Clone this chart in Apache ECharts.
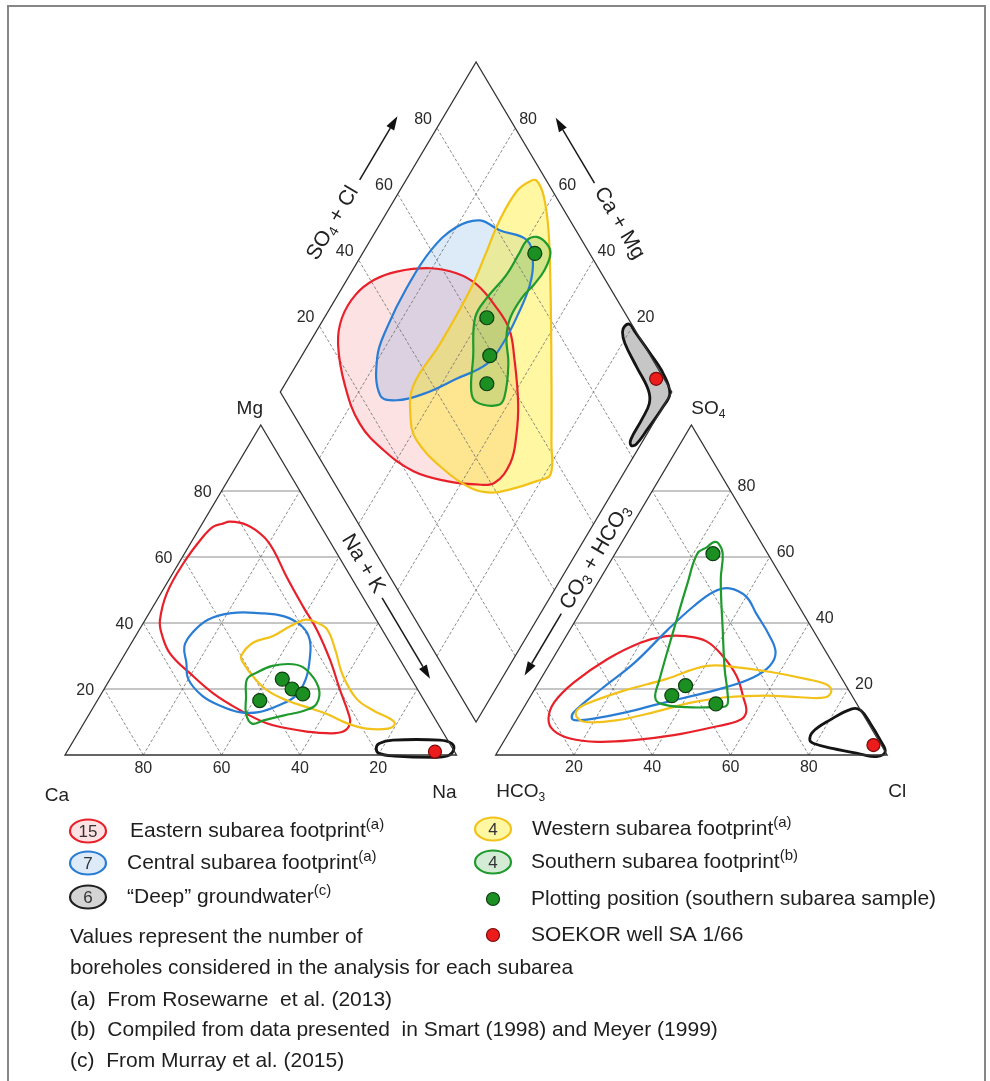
<!DOCTYPE html>
<html>
<head>
<meta charset="utf-8">
<title>Piper diagram – subarea footprints</title>
<script src="https://cdn.jsdelivr.net/npm/echarts@6.0.0/dist/echarts.min.js"></script>
<style>
  html, body { margin: 0; padding: 0; background: #ffffff; }
  #chart { width: 990px; height: 1081px; }
</style>
</head>
<body>
<div id="chart"></div>
<script>
// ---------------- values ----------------
const ticks = [20, 40, 60, 80];

// Cation triangle footprints, [Ca %, Mg %] (Na+K is the remainder)
const eastCation = [[25,70],[22.5,70.7],[18.7,69.7],[16.2,66.2],[15.7,62.1],[16.4,54],[16.7,44.9],[16.7,37.9],[17.9,28.8],[19.9,19.7],[21.3,12.6],[22.4,9.6],[25.4,7.1],[29.9,6.6],[34.7,7.1],[39.3,8.1],[43.7,9.6],[48.5,13.6],[52.8,18.7],[55.7,24.8],[57.8,30.8],[56.9,36.9],[55.3,40.9],[49.5,49],[40.7,58.1],[31.6,66.2],[27.5,69.2]];
const centralCation = [[53,33],[49,37],[43,41],[36,43],[29,43],[23,42],[20,39],[20,35],[23,29],[27,23],[32,18],[38,15],[44,13],[49,13],[53,15],[56,18],[57,23],[55,28]];
const westCation = [[40,30],[35,34],[29,36],[23,39],[18,41],[15.5,40],[14,38],[15,32],[17,24],[17,17],[14.5,13.5],[11.5,11],[11,9.5],[13.5,8],[19,8],[23,9.5],[27,12.5],[31,14.5],[35,16.5],[38.5,19.5],[40,23.5],[40.5,28]];
const southCation = [[42,23],[38.5,25],[33.5,27],[28,27.5],[25.5,26],[25,20.5],[28,15.5],[32,13.5],[38,12],[44,10.5],[47.5,9.5],[47.5,12.5],[45,17.5]];
const deepCation = [[18,3.5],[14,4.5],[2,4.5],[-0.5,3.5],[0,1.5],[2.5,-0.3],[6.5,-0.7],[16,-0.3],[19.5,0.5],[19.5,2]];

// Anion triangle footprints, [Cl %, SO4 %] (CO3+HCO3 is the remainder)
const eastAnion = [[8,11],[7,16],[9,22],[14,29],[20,34],[25.5,36],[30.5,36],[36.5,34.5],[43,30],[49.5,24],[54.5,17.5],[57.5,13],[57,10.5],[51.5,8.5],[42.5,6],[33,4.5],[24,4],[16.5,5],[11,7.5]];
const centralAnion = [[14,11],[13.5,13],[17,20],[21.5,28],[25,38],[28,45],[31,49.5],[34.5,50.5],[40,48],[45,43],[52,36],[56,31],[56.5,27],[54,23.5],[48.5,20.5],[41.5,18],[34,15.5],[27,13],[19.5,11],[15.5,10.5]];
const westAnion = [[14,13.5],[15.5,15.5],[23,19.5],[32,23],[40.5,27],[49,26.5],[58.5,25],[68,23],[73.5,21.5],[76,19.5],[75.5,17.5],[69,17.5],[60,18],[50,17.5],[42.5,16],[34,13],[25.5,10.5],[18,10],[15,11.5]];
const southAnion = [[22.5,63],[23.5,64.5],[25,64],[27.5,61],[31,53],[39,38],[45.5,26],[50,18.5],[51.5,15],[48.5,14.5],[41.5,14.5],[34.5,15.5],[32,17.5],[30.5,22.5],[26.5,38],[23,52],[21,61]];
const deepAnion = [[78,4.5],[77.5,7],[80,10.5],[84,14],[86.5,13.5],[91,9.5],[96,4.5],[99,1],[97.5,-0.5],[93,0.3],[85,2],[79.5,3.5]];

// Diamond footprints, [SO4+Cl %, Ca+Mg %]
const eastDiamond = [[48,88.5],[41,93],[34,95.5],[27,95.5],[22,92.5],[17.5,84.5],[15.5,75],[17.5,65],[22,54],[29,44],[36,36],[41,31.5],[48,30.5],[53.5,33],[59,37.5],[65,45.5],[68,51],[68,57.5],[66.5,66],[63,73],[57,80.5]];
const centralDiamond = [[25,74],[30,80.5],[37,82.5],[48,83.5],[60,83],[70,80],[77,75],[80.5,68.5],[86,60],[84.5,55.5],[80,52.5],[72,51],[64.5,50.5],[57,51.5],[47,57],[36.5,63],[28.5,69]];
const westDiamond = [[96,68],[97.5,66.5],[97,62.5],[93,56],[85,47],[72.5,34],[61.5,23],[56.5,18.5],[52,21],[44,26.5],[38.5,31],[34,37],[30,46.5],[27.5,58],[29.5,63],[35,67],[48,66.5],[64,67],[73.5,68.5],[82,70],[91,70]];
const southDiamond = [[90.5,54.5],[90,52],[86,51],[81,51.5],[76.5,52.5],[70,52.5],[66,50.5],[62.5,46],[56.5,42],[53.5,42.5],[48.5,48.5],[49,51.5],[54.5,56],[61,61.5],[67,61.5],[75.5,60],[82,60],[86,60],[89,58]];
const deepDiamond = [[98,22],[99.5,21],[99.7,18.5],[100.3,11.5],[100.6,5],[99.3,0.3],[95.6,0],[88,0.6],[83,1.2],[81.5,2.3],[82.5,3.3],[88,3.5],[92.5,4],[94.3,6.3],[94.8,12.8],[95.4,19.4],[96.5,21.7]];

// Southern subarea samples (% of meq)
const sampleCa  = [33, 42, 32, 30];
const sampleMg  = [23, 16.5, 20, 18.5];
const sampleCl  = [25, 48.5, 38, 36];
const sampleSO4 = [61, 15.5, 21, 18];

// SOEKOR well SA 1/66
const wellCation = [5, 1];   // [Ca, Mg]
const wellAnion  = [95, 3];  // [Cl, SO4]

// Legend content
const legendNames  = ['Eastern subarea footprint', 'Central subarea footprint', '\u201CDeep\u201D groundwater', 'Western subarea footprint', 'Southern subarea footprint'];
const legendCounts = ['15', '7', '6', '4', '4'];
const legendRefs   = ['(a)', '(a)', '(c)', '(a)', '(b)'];
const markerNames  = ['Plotting position (southern subarea sample)', 'SOEKOR well SA 1/66'];
const noteLines = [
  'Values represent the number of',
  'boreholes considered in the analysis for each subarea',
  '(a)  From Rosewarne  et al. (2013)',
  '(b)  Compiled from data presented  in Smart (1998) and Meyer (1999)',
  '(c)  From Murray et al. (2015)'
];

// ---------------- geometry (x: one side = 100, y: one triangle height = 100) ----------------
const SIDE = 100, GAP = 10;
const cationPt = ([ca, mg]) => [100 - ca - mg + mg / 2, mg];
const anionPt = ([cl, so4]) => [SIDE + GAP + cl + so4 / 2, so4];
const diamondPt = ([an, cat]) => {
  const u = an / 100, v = cat / 100;
  return [SIDE + GAP / 2 + (SIDE / 2) * (u - v), GAP + 100 * (u + v)];
};

const FONT = '"Liberation Sans", Arial, Helvetica, sans-serif';
const palette = {
  east:    { stroke: '#e8202a', fill: 'rgba(236,28,36,0.13)', width: 2.2 },
  central: { stroke: '#2a7dd4', fill: 'rgba(42,127,212,0.16)', width: 2.2 },
  west:    { stroke: '#f2c21b', fill: 'rgba(255,236,20,0.40)', width: 2.2 },
  south:   { stroke: '#1f9a2c', fill: 'rgba(40,160,50,0.20)', width: 2.2 },
  deep:    { stroke: '#141414', fill: '#c6c6c6', width: 2.8 }
};

// footprint shapes: [points, projection, palette key]
const shapes = [
  [eastDiamond, diamondPt, 'east'], [centralDiamond, diamondPt, 'central'],
  [westDiamond, diamondPt, 'west'], [southDiamond, diamondPt, 'south'], [deepDiamond, diamondPt, 'deep'],
  [eastCation, cationPt, 'east'], [centralCation, cationPt, 'central'], [westCation, cationPt, 'west'],
  [southCation, cationPt, 'south'], [deepCation, cationPt, 'deep'],
  [eastAnion, anionPt, 'east'], [centralAnion, anionPt, 'central'], [westAnion, anionPt, 'west'],
  [southAnion, anionPt, 'south'], [deepAnion, anionPt, 'deep']
];
const filledShapes = shapes.filter(s => s[1] === diamondPt);

// ---------------- grid lines and frames ----------------
const solidSegs = [], dashSegs = [];
ticks.forEach(t => {
  solidSegs.push([cationPt([100 - t, t]), cationPt([0, t])]);
  dashSegs.push([cationPt([100 - t, 0]), cationPt([0, 100 - t])]);
  dashSegs.push([cationPt([t, 0]), cationPt([t, 100 - t])]);
  solidSegs.push([anionPt([0, t]), anionPt([100 - t, t])]);
  dashSegs.push([anionPt([t, 0]), anionPt([t, 100 - t])]);
  dashSegs.push([anionPt([100 - t, 0]), anionPt([0, 100 - t])]);
  dashSegs.push([diamondPt([t, 0]), diamondPt([t, 100])]);
  dashSegs.push([diamondPt([0, t]), diamondPt([100, t])]);
});
const frames = [
  [cationPt([100, 0]), cationPt([0, 0]), cationPt([0, 100])],
  [anionPt([0, 0]), anionPt([100, 0]), anionPt([0, 100])],
  [diamondPt([0, 0]), diamondPt([100, 0]), diamondPt([100, 100]), diamondPt([0, 100])]
];

function segSeries(segs, style, z, closed) {
  return {
    type: 'custom', coordinateSystem: 'cartesian2d', silent: true, z: z,
    data: segs.map((s, i) => [i, 0]),
    renderItem: (params, api) => ({
      type: closed ? 'polygon' : 'polyline',
      shape: { points: segs[params.dataIndex].map(p => api.coord(p)) },
      style: Object.assign({ fill: null }, style)
    })
  };
}

function shapeSeries(list, mode, z) {
  return {
    type: 'custom', coordinateSystem: 'cartesian2d', silent: true, z: z,
    data: list.map((s, i) => [i, 0]),
    renderItem: (params, api) => {
      const [pts, proj, key] = list[params.dataIndex];
      const pal = palette[key];
      const style = mode === 'fill'
        ? { fill: pal.fill, stroke: null }
        : { fill: null, stroke: pal.stroke, lineWidth: pal.width, lineJoin: 'round' };
      return {
        type: 'polygon',
        shape: { points: pts.map(p => api.coord(proj(p))), smooth: 0.4 },
        style: style
      };
    }
  };
}

// ---------------- sample positions ----------------
const greenPts = [];
sampleCa.forEach((ca, i) => {
  const mg = sampleMg[i], cl = sampleCl[i], so4 = sampleSO4[i];
  greenPts.push(cationPt([ca, mg]));
  greenPts.push(anionPt([cl, so4]));
  greenPts.push(diamondPt([cl + so4, ca + mg]));
});
const redPts = [
  cationPt(wellCation),
  anionPt(wellAnion),
  diamondPt([wellAnion[0] + wellAnion[1], wellCation[0] + wellCation[1]])
];

// ---------------- labels, titles and arrows ----------------
function txt(x, y, text, opt) {
  opt = opt || {};
  const el = {
    type: 'text', x: x, y: y, rotation: opt.rotation || 0, silent: true,
    style: {
      text: text, fill: opt.color || '#2a2a2a', fontFamily: FONT, fontSize: opt.size || 16,
      align: opt.align || 'center', verticalAlign: 'middle'
    }
  };
  if (opt.rich) el.style.rich = opt.rich;
  return el;
}
function subRich(size) {
  return {
    n: { fontFamily: FONT, fontSize: size, lineHeight: size + 4, fill: '#222' },
    s: { fontFamily: FONT, fontSize: Math.round(size * 0.65), lineHeight: Math.round(size * 0.7), verticalAlign: 'bottom', fill: '#222' }
  };
}

function renderDecor(params, api) {
  const P = p => api.coord(p);
  const ch = [];
  ticks.forEach(t => {
    const s = String(t);
    let a = P(cationPt([100 - t, t])); ch.push(txt(a[0] - 10, a[1] + 2, s, { align: 'right' }));
    a = P(cationPt([t, 0]));           ch.push(txt(a[0], a[1] + 14, s));
    a = P(anionPt([100 - t, t]));      ch.push(txt(a[0] + 7, a[1] - 4, s, { align: 'left' }));
    a = P(anionPt([t, 0]));            ch.push(txt(a[0], a[1] + 13, s));
    a = P(diamondPt([t, 100]));        ch.push(txt(a[0] - 5, a[1] - 8.5, s, { align: 'right' }));
    a = P(diamondPt([100, t]));        ch.push(txt(a[0] + 4, a[1] - 8.5, s, { align: 'left' }));
  });

  // corner names
  let c = P(cationPt([0, 100]));  ch.push(txt(c[0] - 11, c[1] - 16, 'Mg', { size: 19, color: '#222' }));
  c = P(cationPt([100, 0]));      ch.push(txt(c[0] - 8, c[1] + 41, 'Ca', { size: 19, color: '#222' }));
  c = P(cationPt([0, 0]));        ch.push(txt(c[0] - 12, c[1] + 38, 'Na', { size: 19, color: '#222' }));
  c = P(anionPt([0, 100]));       ch.push(txt(c[0] + 17, c[1] - 16, '{n|SO}{s|4}', { rich: subRich(19) }));
  c = P(anionPt([0, 0]));         ch.push(txt(c[0] + 25, c[1] + 37, '{n|HCO}{s|3}', { rich: subRich(19) }));
  c = P(anionPt([100, 0]));       ch.push(txt(c[0] + 10, c[1] + 37, 'Cl', { size: 19, color: '#222' }));

  // edge titles with direction arrows
  function edge(p0, p1, leftSide) {
    const a = P(p0), b = P(p1);
    const dx = b[0] - a[0], dy = b[1] - a[1], L = Math.hypot(dx, dy);
    const e = [dx / L, dy / L];
    const n = leftSide ? [e[1], -e[0]] : [-e[1], e[0]];
    return { e: e, at: (s, d) => [a[0] + e[0] * s + n[0] * d, a[1] + e[1] * s + n[1] * d] };
  }
  function title(ed, s, d, text, reverse) {
    const r = reverse ? [-ed.e[0], -ed.e[1]] : ed.e;
    const p = ed.at(s, d);
    ch.push(txt(p[0], p[1], text, { rich: subRich(21), rotation: Math.atan2(-r[1], r[0]) }));
  }
  function arrow(ed, s0, s1, d) {
    const p0 = ed.at(s0, d), tip = ed.at(s1, d), base = ed.at(s1 - 14, d);
    const e = ed.e, w = 4.5;
    ch.push({ type: 'line', silent: true, shape: { x1: p0[0], y1: p0[1], x2: base[0], y2: base[1] },
      style: { stroke: '#1a1a1a', lineWidth: 1.5 } });
    ch.push({ type: 'polygon', silent: true,
      shape: { points: [tip, [base[0] - e[1] * w, base[1] + e[0] * w], [base[0] + e[1] * w, base[1] - e[0] * w]] },
      style: { fill: '#111' } });
  }
  const L = diamondPt([0, 100]), T = diamondPt([100, 100]), R = diamondPt([100, 0]), B = diamondPt([0, 0]);
  const e1 = edge(L, T, true);
  title(e1, 172, 41, '{n|SO}{s|4}{n| + Cl}', false);
  arrow(e1, 223, 297, 40);
  const e2 = edge(R, T, false);
  title(e2, 172, 41, '{n|Ca + Mg}', true);
  arrow(e2, 219, 295, 40);
  const e3 = edge(L, B, false);
  title(e3, 190, 16.5, '{n|Na + K}', false);
  arrow(e3, 229, 323, 17.5);
  const e4 = edge(R, B, true);
  title(e4, 181, 18.5, '{n|CO}{s|3}{n| + HCO}{s|3}', true);
  arrow(e4, 247, 319, 18);

  return { type: 'group', children: ch };
}

// ---------------- legend (page layout) ----------------
const legendText = 21;
const richLegend = {
  t: { fontFamily: FONT, fontSize: legendText, lineHeight: 27, fill: '#1e1e1e' },
  sup: { fontFamily: FONT, fontSize: 15, lineHeight: 15, verticalAlign: 'top', fill: '#1e1e1e' }
};
const legendKeys = ['east', 'central', 'deep', 'west', 'south'];
const legendPos = [[88, 831, 130], [88, 863, 127], [88, 897, 127], [493, 829, 532], [493, 862, 531]];
const graphics = [{
  type: 'rect', silent: true, shape: { x: 8, y: 6, width: 977, height: 1095 },
  style: { fill: null, stroke: '#878787', lineWidth: 2 }
}];
legendNames.forEach((name, i) => {
  const [cx, cy, tx] = legendPos[i];
  const pal = palette[legendKeys[i]];
  const fill = legendKeys[i] === 'deep' ? '#d4d4d4' : pal.fill;
  graphics.push({ type: 'ellipse', silent: true, shape: { cx: cx, cy: cy, rx: 18, ry: 11.5 },
    style: { fill: '#ffffff', stroke: null } });
  graphics.push({ type: 'ellipse', silent: true, shape: { cx: cx, cy: cy, rx: 18, ry: 11.5 },
    style: { fill: fill, stroke: legendKeys[i] === 'deep' ? '#222' : pal.stroke, lineWidth: 2.2 } });
  graphics.push({ type: 'text', silent: true, x: cx, y: cy + 1,
    style: { text: legendCounts[i], fontFamily: FONT, fontSize: 17, fill: '#333', align: 'center', verticalAlign: 'middle' } });
  graphics.push({ type: 'text', silent: true, x: tx, y: cy,
    style: { text: '{t|' + name + '}{sup|' + legendRefs[i] + '}', rich: richLegend, align: 'left', verticalAlign: 'middle' } });
});
[['#1b8f22', '#0d3d10', 899], ['#ec1c1c', '#7a0a0a', 935]].forEach((m, i) => {
  graphics.push({ type: 'circle', silent: true, shape: { cx: 493, cy: m[2], r: 6.5 },
    style: { fill: m[0], stroke: m[1], lineWidth: 1.2 } });
  graphics.push({ type: 'text', silent: true, x: 531, y: m[2],
    style: { text: markerNames[i], fontFamily: FONT, fontSize: legendText, fill: '#1e1e1e', align: 'left', verticalAlign: 'middle' } });
});
[937, 968, 1000, 1030, 1061].forEach((y, i) => {
  graphics.push({ type: 'text', silent: true, x: 70, y: y,
    style: { text: noteLines[i], fontFamily: FONT, fontSize: legendText, fill: '#1e1e1e', align: 'left', verticalAlign: 'middle' } });
});

// ---------------- chart ----------------
const chart = echarts.init(document.getElementById('chart'), null, { renderer: 'canvas' });
chart.setOption({
  animation: false,
  backgroundColor: '#ffffff',
  grid: { left: 25.85, top: 29, width: 900.45, height: 759, containLabel: false, outerBoundsMode: 'none' },
  xAxis: { type: 'value', min: -10, max: 220, show: false },
  yAxis: { type: 'value', min: -10, max: 220, show: false },
  graphic: graphics,
  series: [
    shapeSeries(filledShapes, 'fill', 1),
    segSeries(solidSegs, { stroke: '#8c8c8c', lineWidth: 1 }, 2),
    segSeries(dashSegs, { stroke: '#6e6e6e', lineWidth: 0.8, lineDash: [3, 2] }, 2),
    shapeSeries(shapes, 'line', 3),
    segSeries(frames, { stroke: '#333333', lineWidth: 1.3 }, 4, true),
    {
      type: 'scatter', silent: true, z: 5, symbolSize: 14, data: greenPts,
      itemStyle: { color: '#1b8f22', borderColor: '#0d3d10', borderWidth: 1.2, opacity: 1 }
    },
    {
      type: 'scatter', silent: true, z: 5, symbolSize: 13, data: redPts,
      itemStyle: { color: '#ec1c1c', borderColor: '#7a0a0a', borderWidth: 1.2, opacity: 1 }
    },
    {
      type: 'custom', coordinateSystem: 'cartesian2d', silent: true, z: 6,
      data: [[0, 0]], renderItem: renderDecor
    }
  ]
});
</script>
</body>
</html>
